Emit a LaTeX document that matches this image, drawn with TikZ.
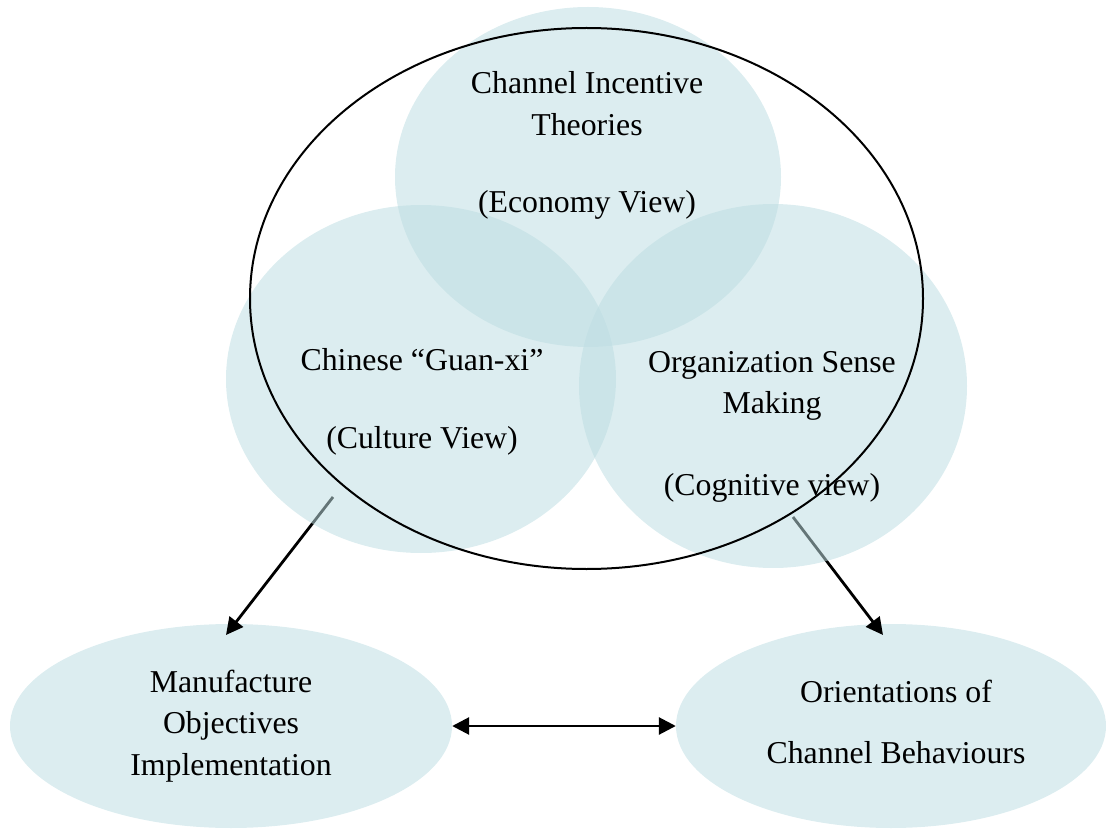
\documentclass[tikz,border=0pt]{standalone}
\usepackage{fontspec}
\setmainfont{Liberation Serif}
\usepackage{xcolor}
\usetikzlibrary{shapes.geometric,arrows.meta}
\definecolor{bubblecyan}{RGB}{189,221,226}
\definecolor{goalcyan}{RGB}{220,237,240}
\tikzstyle{bubble}=[ellipse,inner sep=0pt,fill=bubblecyan,fill opacity=.53]
\tikzstyle{goal}=[ellipse,inner sep=0pt,fill=goalcyan]
\tikzstyle{words}=[inner sep=0pt,anchor=base,font=\fontsize{31.8}{41.5}\selectfont]
\tikzstyle{link}=[line width=2.8pt,-{Triangle[length=17pt,width=17pt]}]

\begin{document}
\begin{tikzpicture}[x=1pt,y=-1pt]
		\useasboundingbox (0,0) rectangle (1117,829);
		% outcome ellipses
		\node[goal,minimum width=442pt,minimum height=204pt] (maker) at (231,726) {};
		\node[goal,minimum width=430pt,minimum height=204pt] (behave) at (891,726) {};
		% arrows (under the views)
		\coordinate (cultureTail) at (333,497);
		\coordinate (makerTip) at (226,635);
		\coordinate (cognitiveTail) at (793,517);
		\coordinate (behaveTip) at (883,635);
		\draw[link] (cultureTail) -- (makerTip);
		\draw[link] (cognitiveTail) -- (behaveTip);
		\draw[link,{Triangle[length=17pt,width=17pt]}-{Triangle[length=17pt,width=17pt]}] (maker.east) -- (behave.west);
		% the three views
		\node[bubble,minimum width=386pt,minimum height=340pt] (economy) at (588,177) {};
		\node[bubble,minimum width=390pt,minimum height=348pt] (culture) at (421,379) {};
		\node[bubble,minimum width=388pt,minimum height=364pt] (cognitive) at (773,386) {};
		\node[draw,ellipse,line width=2pt,inner sep=0pt,minimum width=673pt,minimum height=541pt] (frame) at (586.5,298.5) {};
		% texts
		\node[words] (economyA) at (587,94) {Channel Incentive};
		\node[words] (economyB) at (587,136) {Theories};
		\node[words] (economyC) at (587,213) {(Economy View)};
		\node[words] (cultureA) at (422,370) {Chinese “Guan-xi”};
		\node[words] (cultureB) at (422,448) {(Culture View)};
		\node[words] (cognitiveA) at (772,372) {Organization Sense};
		\node[words] (cognitiveB) at (772,413) {Making};
		\node[words] (cognitiveC) at (772,495) {(Cognitive view)};
		\node[words] (makerA) at (231,692) {Manufacture};
		\node[words] (makerB) at (231,733) {Objectives};
		\node[words] (makerC) at (231,775) {Implementation};
		\node[words] (behaveA) at (896,702) {Orientations of};
		\node[words] (behaveB) at (896,763) {Channel Behaviours};
	\end{tikzpicture}
\end{document}
